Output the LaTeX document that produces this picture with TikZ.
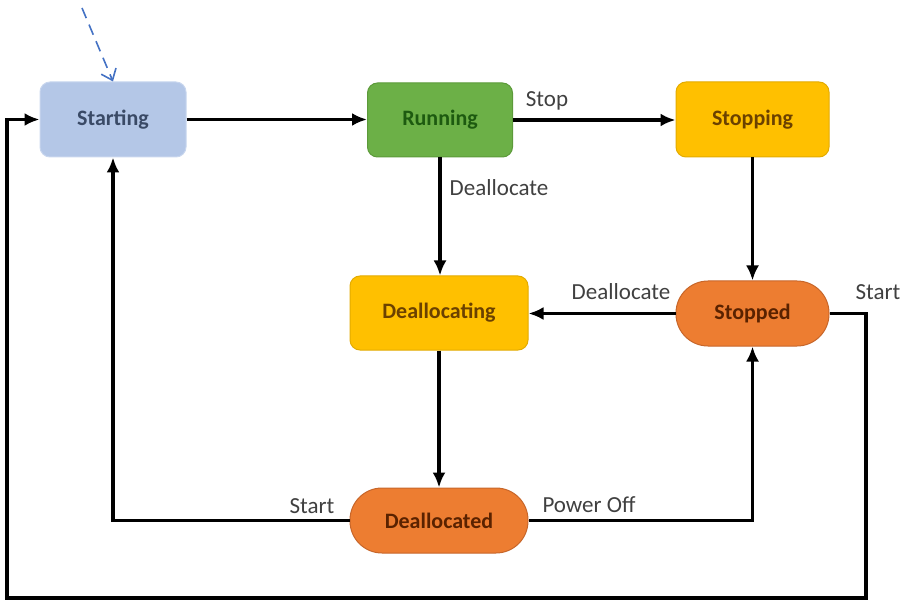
\documentclass[tikz,border=0pt]{standalone}
\usepackage{fontspec}
\setmainfont{Carlito}
\usetikzlibrary{arrows.meta}
\definecolor{startfill}{HTML}{B4C7E7}
\definecolor{startdraw}{HTML}{C8D6EE}
\definecolor{starttext}{HTML}{3A4A66}
\definecolor{runfill}{HTML}{6CB047}
\definecolor{rundraw}{HTML}{5C9A3A}
\definecolor{runtext}{HTML}{1D5A10}
\definecolor{yelfill}{HTML}{FFC000}
\definecolor{yeldraw}{HTML}{E3AB00}
\definecolor{yeltext}{HTML}{6B4100}
\definecolor{orfill}{HTML}{ED7D31}
\definecolor{ordraw}{HTML}{C7662A}
\definecolor{ortext}{HTML}{5A2200}
\definecolor{lbl}{HTML}{404040}
\definecolor{initblue}{HTML}{4472C4}
\tikzset{
  state/.style={rectangle, rounded corners=10pt, line width=1pt, inner sep=0pt,
    font=\fontsize{22}{26}\selectfont\bfseries},
  startbox/.style={state, fill=startfill, draw=startdraw, text=starttext},
  runbox/.style={state, fill=runfill, draw=rundraw, text=runtext},
  yelbox/.style={state, fill=yelfill, draw=yeldraw, text=yeltext},
  orbox/.style={state, rounded corners=32pt, fill=orfill, draw=ordraw, text=ortext},
  conn/.style={line width=3.2pt, -{Latex[length=15pt,width=13pt]}},
  lab/.style={text=lbl, font=\fontsize{23}{27}\selectfont, inner sep=0pt}
}
\begin{document}
\begin{tikzpicture}[x=1pt,y=-1pt]
\useasboundingbox (0,0) rectangle (901,601);
\node[startbox, minimum width=146pt, minimum height=75pt] (start) at (113,119.5) {Starting};
\node[runbox, minimum width=145pt, minimum height=74pt] (run) at (440,120) {Running};
\node[yelbox, minimum width=153pt, minimum height=75pt] (stopping) at (752.5,119.5) {Stopping};
\node[yelbox, minimum width=178pt, minimum height=74pt] (dealloc) at (439,313) {Deallocating};
\node[orbox, minimum width=153pt, minimum height=65pt] (stopped) at (752.5,313.5) {Stopped};
\node[orbox, minimum width=178pt, minimum height=65pt] (dead) at (439,520.5) {Deallocated};

\coordinate (init) at (82,8);
\coordinate (rb) at (866,598);
\coordinate (lb) at (7,598);

\draw[initblue, line width=1.6pt, dash pattern=on 11pt off 7pt, -{Straight Barb[length=10pt,width=16pt]}] (init) -- (start.north);

\draw[conn] (start.east) -- (start.east -| run.west);
\draw[conn] (run.east) -- (run.east -| stopping.west);
\draw[conn] (stopping.south) -- (stopped.north);
\draw[conn] (run.south) -- (run.south |- dealloc.north);
\draw[conn] (stopped.west) -- (stopped.west -| dealloc.east);
\draw[conn] (dealloc.south) -- (dealloc.south |- dead.north);
\draw[conn] (dead.west) -| (start.south);
\draw[conn] (dead.east) -| (stopped.south);
\draw[conn] (stopped.east) -| (rb) -- (lb) |- (start.west);

\node[lab] (lstop) at (547,101) {Stop};
\node[lab] (ldeal1) at (499,188) {Deallocate};
\node[lab] (ldeal2) at (621,292) {Deallocate};
\node[lab] (lstart1) at (878,292) {Start};
\node[lab] (lstart2) at (312,506) {Start};
\node[lab] (lpower) at (589,505) {Power Off};
\end{tikzpicture}
\end{document}
